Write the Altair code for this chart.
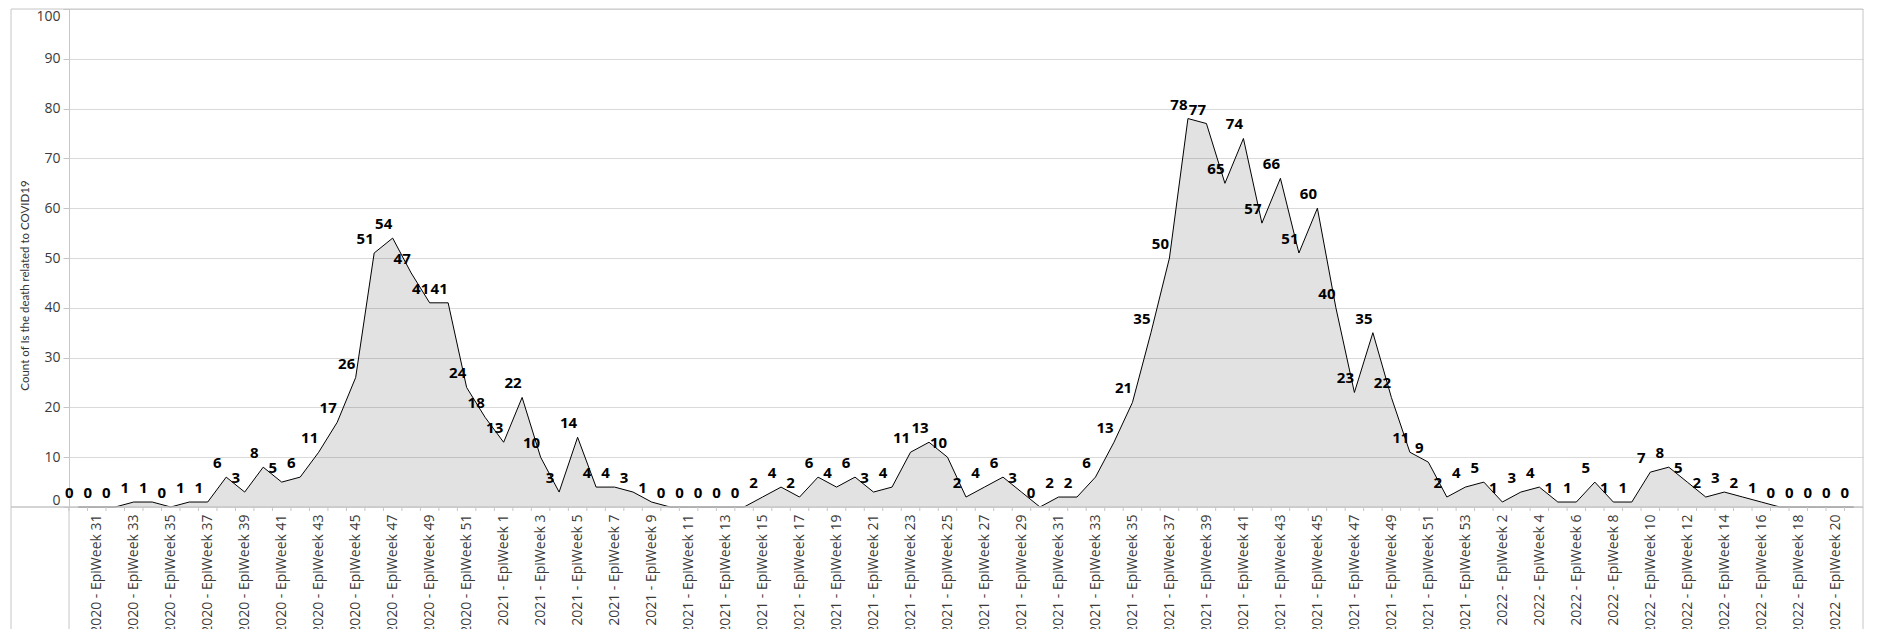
import altair as alt
import pandas as pd

# ---- data ----
weeks_2020 = list(range(30, 53))   # 2020 EpiWeek 30..52
weeks_2021 = list(range(1, 54))    # 2021 EpiWeek 1..53
weeks_2022 = list(range(1, 22))    # 2022 EpiWeek 1..21

deaths_2020 = [0, 0, 0, 1, 1, 0, 1, 1, 6, 3, 8, 5, 6, 11, 17, 26, 51, 54, 47, 41, 41, 24, 18]
deaths_2021 = [13, 22, 10, 3, 14, 4, 4, 3, 1, 0, 0, 0, 0, 0, 2, 4, 2, 6, 4, 6, 3, 4, 11, 13, 10,
               2, 4, 6, 3, 0, 2, 2, 6, 13, 21, 35, 50, 78, 77, 65, 74, 57, 66, 51, 60, 40, 23,
               35, 22, 11, 9, 2, 4]
deaths_2022 = [5, 1, 3, 4, 1, 1, 5, 1, 1, 7, 8, 5, 2, 3, 2, 1, 0, 0, 0, 0, 0]

y_ticks = list(range(0, 101, 10))

categories = ([f"2020 - EpiWeek {w}" for w in weeks_2020]
              + [f"2021 - EpiWeek {w}" for w in weeks_2021]
              + [f"2022 - EpiWeek {w}" for w in weeks_2022])
values = deaths_2020 + deaths_2021 + deaths_2022
df = pd.DataFrame({"week": categories, "deaths": values})

W, H = 1794, 498
STEP = W / len(categories)
LEFT = -58
FRAME = "#c6c6c6"
FONT = "Open Sans"

label_expr = ("(toNumber(slice(datum.value, 15)) + (slice(datum.value, 0, 4) == '2022' ? 1 : 0)) % 2 == 1"
              " ? datum.value : ''")

x_enc = alt.X(
    "week:N",
    sort=categories,
    scale=alt.Scale(type="point", padding=0.5),
    axis=alt.Axis(
        title=None, labelAngle=270, labelFont=FONT, labelFontSize=14, labelColor="#3a3a3a",
        labelPadding=7, ticks=False, domain=False,
        labelOverlap=False, labelExpr=label_expr, labelLimit=400, grid=False,
    ),
)
y_enc = alt.Y(
    "deaths:Q",
    scale=alt.Scale(domain=[0, 100], nice=False),
    axis=alt.Axis(
        values=y_ticks, title="Count of Is the death related to COVID19",
        titleFont="Lato", titleFontSize=11.5, titleFontWeight="normal", titleColor="#333333",
        titleX=-44, titleY=276, titleAngle=270, titleAlign="center", titleBaseline="middle",
        labelFont=FONT, labelFontSize=14, labelColor="#3a3a3a", labelPadding=3,
        tickSize=6, tickColor=FRAME, domainColor=FRAME, gridColor="#dadada", labelFlush=True,
    ),
)

base = alt.Chart(df).encode(x=x_enc, y=y_enc)
area = base.mark_area(color="#000000", opacity=0.115)
line = base.mark_line(color="#000000", strokeWidth=1)
labels = base.mark_text(dx=-9, dy=-14, font=FONT, fontSize=15, fontWeight="bold",
                        color="#000000", align="center", baseline="middle").encode(text="deaths:Q")
# small ticks between categories on the x axis
xticks = alt.Chart(df).mark_rule(color=FRAME, strokeWidth=1).encode(
    x=alt.X("week:N", sort=categories),
    xOffset=alt.value(-STEP / 2),
    y=alt.value(H), y2=alt.value(H + 4),
)

one = pd.DataFrame({"k": [0]})


def frame_rule(x, x2, y, y2, width=1.0):
    return alt.Chart(one).mark_rule(color=FRAME, strokeWidth=width).encode(
        x=alt.value(x), x2=alt.value(x2), y=alt.value(y), y2=alt.value(y2))


frame = [
    frame_rule(LEFT, LEFT, 0, 640),      # left border
    frame_rule(LEFT, W, 0, 0),           # top border
    frame_rule(W, W, 0, 640),            # right border
    frame_rule(LEFT, W, H, H, 1.4),      # x axis line (drawn over the zero-valued line)
    frame_rule(0, 0, H, 640),            # y axis line extension
]

chart = alt.layer(area, line, xticks, *frame, labels).properties(
    width=W, height=H,
    padding={"left": 2, "top": 0, "right": 5, "bottom": 0},
).configure_view(stroke=None)

chart.save("out.html", embed_options={"renderer": "svg", "actions": False})
